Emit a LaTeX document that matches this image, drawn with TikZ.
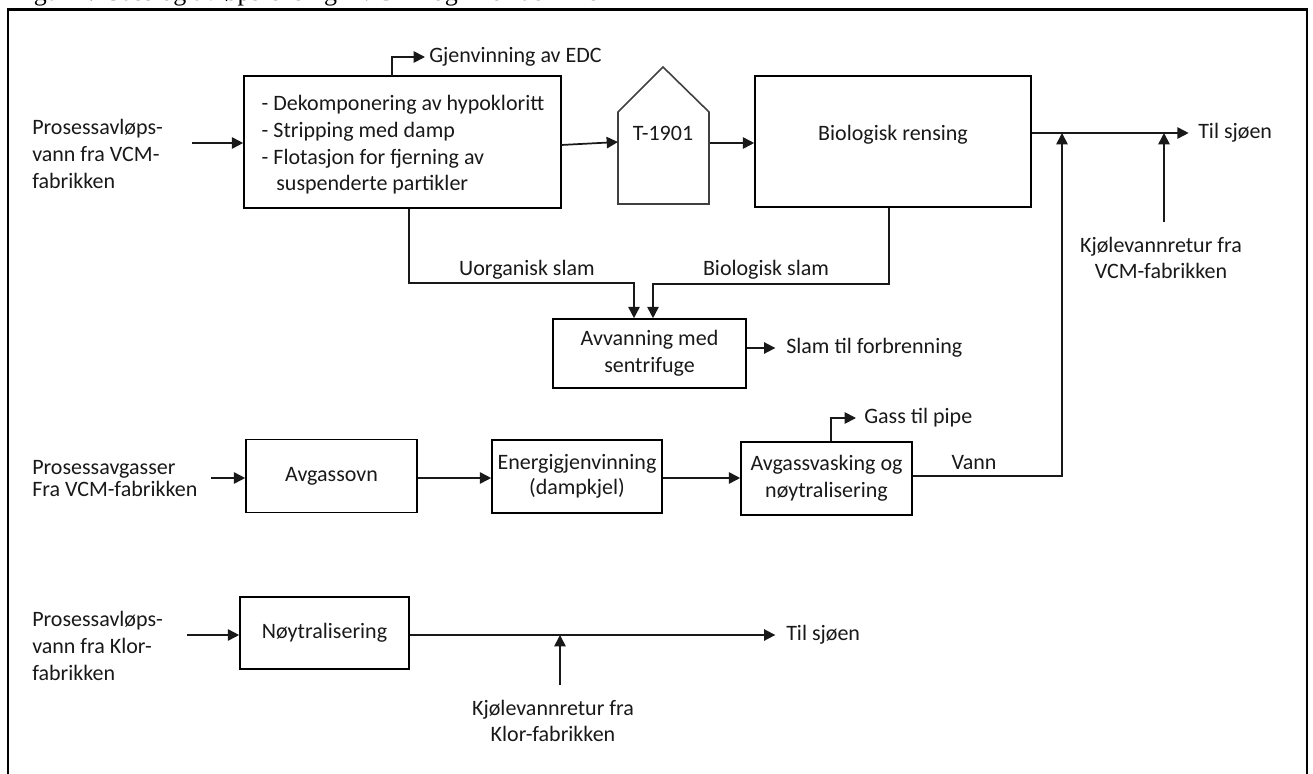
\documentclass[tikz,border=0pt]{standalone}
\usepackage{fontspec}
\setmainfont{Carlito}
\newfontfamily\capfont{Liberation Serif}
\usetikzlibrary{arrows.meta,calc}
\begin{document}
\begin{tikzpicture}[x=0.75pt,y=-0.75pt,
  every node/.style={font=\fontsize{16.5pt}{20pt}\selectfont, inner sep=0pt, text=black!90},
  box/.style={draw=black, line width=1.2pt, rectangle, inner sep=0pt},
  conn/.style={line width=1.3pt, draw=black!90},
  arr/.style={conn, -{Triangle[length=8.5pt,width=8.5pt]}}]
\useasboundingbox (0,0) rectangle (1313,774);
% caption (cut at top)
\node[anchor=base west, font=\capfont\fontsize{19.5pt}{22pt}\selectfont, text=black] (cap) at (12,0.8) {Figur 1. Gass og avløpsrensing i VCM- og Klorfabrikken};
% frame
\draw[line width=2.2pt] (8,800) -- (8,9.5) -- (1307,9.5) -- (1307,800);

% row 1
\node[anchor=west, align=left] (in1) at (32,154) {Prosessavløps-\\vann fra VCM-\\fabrikken};
\node[box, minimum width=237.75pt, minimum height=99pt] (box1) at (402.5,142) {};
\node[align=left] (box1t) at (403,145) {- Dekomponering av hypokloritt\\- Stripping med damp\\- Flotasjon for fjerning av\\\hspace*{11pt}suspenderte partikler};
\coordinate (a1) at (192,143);
\draw[arr] (a1) -- (a1 -| box1.west);

\node[anchor=west] (edc) at (429,57) {Gjenvinning av EDC};
\coordinate (e0) at (392,76);
\draw[arr] (e0) |- ([xshift=-3pt]edc.west);

\coordinate (t1) at (618,204);
\coordinate (t2) at (618,112);
\coordinate (t3) at (663,67);
\coordinate (t4) at (709,112);
\coordinate (t5) at (709,204);
\draw[line width=1.2pt, draw=black!75] (t1) -- (t2) -- (t3) -- (t4) -- (t5) -- cycle;
\node (tt) at (663,133) {T-1901};
\coordinate (ta) at (618,142);
\coordinate (tc) at (561,145);
\draw[arr] (tc) -- (ta);

\node[box, minimum width=207pt, minimum height=98.25pt] (bio) at (893,141.5) {};
\node (biot) at (893,135) {Biologisk rensing};
\coordinate (tb) at (710,143);
\draw[arr] (tb) -- (tb -| bio.west);

\node[anchor=west] (sjo1) at (1198,133) {Til sjøen};
\draw[arr] (bio.east |- sjo1.west) -- ([xshift=-7pt]sjo1.west);

\node[align=center] (kj1) at (1161,258) {Kjølevannretur fra\\VCM-fabrikken};
\coordinate (k1) at (1164,222);
\draw[arr] (k1) -- (k1 |- sjo1.west);

% sludge
\node[box, minimum width=144.75pt, minimum height=51.75pt, align=center] (box2) at (649.5,353.5) {Avvanning med\\sentrifuge};
\node (uorg) at (527,270) {Uorganisk slam};
\node (bslam) at (766,270) {Biologisk slam};
\coordinate (s1) at (409,283);
\coordinate (s2) at (634,283);
\draw[arr] (box1.south -| s1) -- (s1) -- (s2) -- (s2 |- box2.north);
\coordinate (b1) at (889,284);
\coordinate (b2) at (653,284);
\draw[arr] (bio.south -| b1) -- (b1) -- (b2) -- (b2 |- box2.north);
\node[anchor=west] (slam) at (786,348) {Slam til forbrenning};
\draw[arr] (box2.east |- slam.west) -- ([xshift=-8pt]slam.west);

% row 2
\node[anchor=west, align=left, font=\fontsize{16.5pt}{16.5pt}\selectfont] (in2) at (32,479) {Prosessavgasser\\Fra VCM-fabrikken};
\node[box, minimum width=128.25pt, minimum height=54.75pt] (ovn) at (331.5,476) {Avgassovn};
\coordinate (g0) at (211,478);
\draw[arr] (g0) -- (g0 -| ovn.west);
\node[box, minimum width=127.5pt, minimum height=54.75pt, align=center, font=\fontsize{16.5pt}{18.5pt}\selectfont] (energi) at (577,476.5) {Energigjenvinning\\(dampkjel)};
\draw[arr] (ovn.east |- g0) -- (g0 -| energi.west);
\node[box, minimum width=128.25pt, minimum height=54.75pt, align=center] (vask) at (826.5,478.5) {Avgassvasking og\\nøytralisering};
\draw[arr] (energi.east |- g0) -- (g0 -| vask.west);
\node[anchor=west] (pipe) at (864,418) {Gass til pipe};
\coordinate (p0) at (831,442);
\draw[arr] (vask.north -| p0) |- ([xshift=-6pt]pipe.west);
\node (vann) at (974,463) {Vann};
\coordinate (v1) at (1062,476);
\draw[arr] (vask.east |- v1) -- (v1) -- (v1 |- sjo1.west);

% row 3
\node[anchor=west, align=left] (in3) at (32,646) {Prosessavløps-\\vann fra Klor-\\fabrikken};
\node[box, minimum width=126.75pt, minimum height=54pt] (noyt) at (324.5,633) {Nøytralisering};
\coordinate (n0) at (187,635);
\draw[arr] (n0) -- (n0 -| noyt.west);
\node[anchor=west] (sjo2) at (786,635) {Til sjøen};
\draw[arr] (noyt.east |- sjo2.west) -- ([xshift=-8pt]sjo2.west);
\node[align=center] (kj2) at (553,721) {Kjølevannretur fra\\Klor-fabrikken};
\coordinate (k2) at (560,685);
\draw[arr] (k2) -- (k2 |- sjo2.west);
\end{tikzpicture}
\end{document}
